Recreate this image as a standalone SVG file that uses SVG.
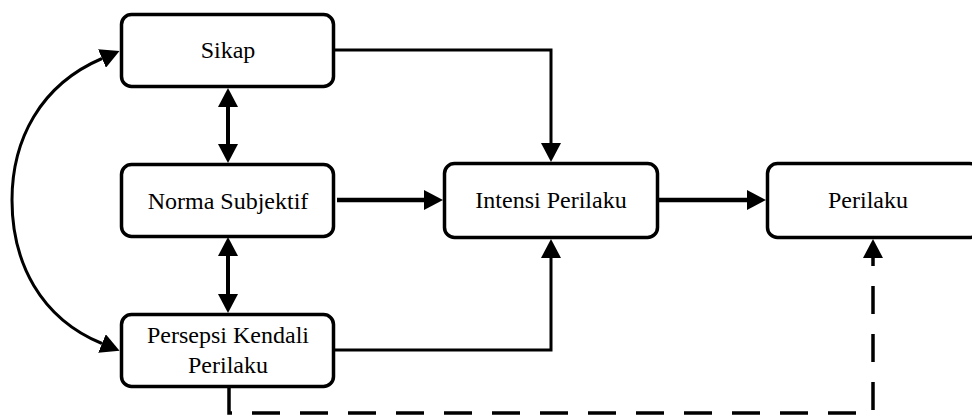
<svg xmlns="http://www.w3.org/2000/svg" width="972" height="417" viewBox="0 0 972 417">
<style>
.box{fill:#fff;stroke:#000;stroke-width:3.5}
.lbl{font-family:"Liberation Serif","Times New Roman","DejaVu Serif",serif;font-size:24px;fill:#000;text-anchor:middle}
.c{fill:none;stroke:#000}
</style>
<defs>
<marker id="ah" viewBox="0 0 19 20" refX="0" refY="10" markerWidth="19" markerHeight="20" markerUnits="userSpaceOnUse" orient="auto-start-reverse">
<path d="M0,0 L19,10 L0,20 z" fill="#000"/>
</marker>
</defs>
<rect width="972" height="417" fill="#fff"/>
<g id="connectors">
<path class="c" stroke-width="3" d="M335 50 H551 V143" marker-end="url(#ah)"/>
<path class="c" stroke-width="4.5" d="M337 200 H424" marker-end="url(#ah)"/>
<path class="c" stroke-width="4.5" d="M659 200 H747" marker-end="url(#ah)"/>
<path class="c" stroke-width="3" d="M335 350 H551 V258" marker-end="url(#ah)"/>
<path class="c" stroke-width="4" d="M228 107 V144" marker-start="url(#ah)" marker-end="url(#ah)"/>
<path class="c" stroke-width="4" d="M228 256 V294" marker-start="url(#ah)" marker-end="url(#ah)"/>
<path class="c" stroke-width="3" d="M102 58.5 C40 85 12 140 12 200 C12 262 40 318 102 343.5" marker-start="url(#ah)" marker-end="url(#ah)"/>
<path class="c" stroke-width="3.5" stroke-dasharray="28 20" d="M229 388 V413 H873 V258" marker-end="url(#ah)"/>
</g>
<g id="sikap">
<rect class="box" x="121.5" y="14.5" width="212" height="72" rx="10"/>
<text class="lbl" x="228" y="58">Sikap</text>
</g>
<g id="norma">
<rect class="box" x="121.5" y="164.5" width="212" height="72" rx="10"/>
<text class="lbl" x="228" y="209">Norma Subjektif</text>
</g>
<g id="persepsi">
<rect class="box" x="121.5" y="314.5" width="212" height="72" rx="10"/>
<text class="lbl" x="228" y="343">Persepsi Kendali</text>
<text class="lbl" x="228" y="373">Perilaku</text>
</g>
<g id="intensi">
<rect class="box" x="444.5" y="163.5" width="213" height="74" rx="10"/>
<text class="lbl" x="551" y="208">Intensi Perilaku</text>
</g>
<g id="perilaku">
<rect class="box" x="767.5" y="163.5" width="212" height="74" rx="10"/>
<text class="lbl" x="868" y="208">Perilaku</text>
</g>
</svg>
